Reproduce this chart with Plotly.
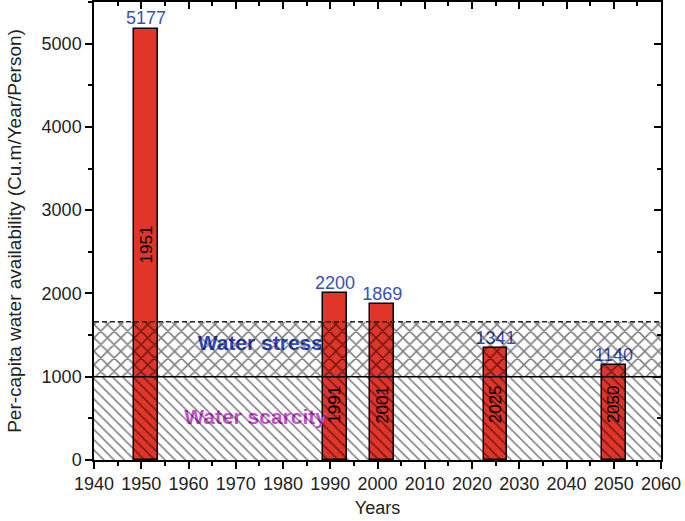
import plotly.graph_objects as go

years = [1951, 1991, 2001, 2025, 2050]
availability = [5177, 2000, 1869, 1341, 1140]
value_labels = ["5177", "2200", "1869", "1341", "1140"]
year_labels = ["1951", "1991", "2001", "2025", "2050"]
scarcity_limit = 1000
stress_limit = 1660
x_range = [1940, 2060]
y_range = [0, 5500]
x_ticks = list(range(1940, 2061, 10))
y_ticks = list(range(0, 5001, 1000))

FONT = "Liberation Sans, Arial, sans-serif"

fig = go.Figure()

fig.add_trace(go.Bar(
    x=years, y=availability, width=5,
    marker=dict(color="#E2352A", line=dict(color="black", width=1.5)),
    hoverinfo="skip", showlegend=False,
))

# value labels above bars (drawn beneath the hatching)
fig.add_trace(go.Scatter(
    x=years, y=availability, mode="text", text=value_labels,
    textposition="top center",
    textfont=dict(family=FONT, size=18, color="#3A50B4"),
    hoverinfo="skip", showlegend=False,
))
# zone labels (beneath the hatching)
fig.add_trace(go.Scatter(
    x=[1975.2, 1974.2], y=[1380, 500], mode="text",
    text=["<b>Water stress</b>", "<b>Water scarcity</b>"],
    textposition="middle center",
    textfont=dict(family=FONT, size=21, color=["#3049C4", "#C850D0"]),
    hoverinfo="skip", showlegend=False,
))

# water scarcity zone (below 1000)
fig.add_trace(go.Scatter(
    x=[x_range[0], x_range[1], x_range[1], x_range[0], x_range[0]],
    y=[0, 0, scarcity_limit, scarcity_limit, 0],
    mode="lines", line=dict(width=0), fill="toself",
    fillcolor="rgba(0,0,0,0)",
    fillpattern=dict(shape="\\", size=7.2, solidity=0.21, fgcolor="black",
                     bgcolor="rgba(0,0,0,0)", fillmode="overlay"),
    hoverinfo="skip", showlegend=False,
))
# water stress zone
fig.add_trace(go.Scatter(
    x=[x_range[0], x_range[1], x_range[1], x_range[0], x_range[0]],
    y=[scarcity_limit, scarcity_limit, stress_limit, stress_limit, scarcity_limit],
    mode="lines", line=dict(width=0), fill="toself",
    fillcolor="rgba(0,0,0,0)",
    fillpattern=dict(shape="x", size=9.5, solidity=0.3, fgcolor="black",
                     bgcolor="rgba(0,0,0,0)", fillmode="overlay"),
    hoverinfo="skip", showlegend=False,
))
# boundary lines
fig.add_trace(go.Scatter(
    x=x_range, y=[scarcity_limit, scarcity_limit], mode="lines",
    line=dict(color="black", width=1.3), hoverinfo="skip", showlegend=False,
))
fig.add_trace(go.Scatter(
    x=x_range, y=[stress_limit, stress_limit], mode="lines",
    line=dict(color="#222222", width=1.5, dash="5px,3px"),
    hoverinfo="skip", showlegend=False,
))
# dummy trace for mirror axes
fig.add_trace(go.Scatter(x=x_range, y=y_range, xaxis="x2", yaxis="y2",
                         mode="markers", marker=dict(opacity=0),
                         hoverinfo="skip", showlegend=False))

# year labels inside bars
for yr, v, lab in zip(years, availability, year_labels):
    ypos = v / 2 if v > 3000 else 665
    fig.add_annotation(x=yr, y=ypos, text=lab, showarrow=False, textangle=-90,
                       font=dict(family=FONT, size=17, color="black"))

axis_common = dict(showgrid=False, zeroline=False, showline=True,
                   linecolor="black", linewidth=1.5, automargin=False)

fig.update_layout(
    width=685, height=521,
    margin=dict(l=94, r=24, t=2, b=61),
    paper_bgcolor="white", plot_bgcolor="white",
    font=dict(family=FONT, color="#222222"),
    bargap=0,
    xaxis=dict(range=x_range, tickvals=x_ticks, ticks="outside", ticklen=7,
               tickwidth=1.5, tickcolor="black",
               minor=dict(dtick=5, tick0=1940, ticks="outside", ticklen=4,
                          tickwidth=1.5, tickcolor="black"),
               tickfont=dict(size=18, color="#222222"),
               title=dict(text="Years", font=dict(size=18, color="#222222"), standoff=8),
               **axis_common),
    yaxis=dict(range=y_range, tickvals=y_ticks, ticks="outside", ticklen=7,
               tickwidth=1.5, tickcolor="black",
               minor=dict(dtick=500, tick0=0, ticks="outside", ticklen=4,
                          tickwidth=1.5, tickcolor="black"),
               tickfont=dict(size=18, color="#222222"),
               title=dict(text="Per-capita water availability (Cu.m/Year/Person)",
                          font=dict(size=19, color="#222222"), standoff=15),
               **axis_common),
    xaxis2=dict(range=x_range, overlaying="x", side="top", anchor="y2",
                tickvals=x_ticks, ticks="inside", ticklen=7, tickwidth=1.5,
                tickcolor="black", showticklabels=False,
                minor=dict(dtick=5, tick0=1940, ticks="inside", ticklen=4,
                           tickwidth=1.5, tickcolor="black"),
                **axis_common),
    yaxis2=dict(range=y_range, overlaying="y", side="right", anchor="x2",
                tickvals=y_ticks, ticks="inside", ticklen=7, tickwidth=1.5,
                tickcolor="black", showticklabels=False,
                minor=dict(dtick=500, tick0=0, ticks="inside", ticklen=4,
                           tickwidth=1.5, tickcolor="black"),
                **axis_common),
)

fig.write_html("out.html", config={"displayModeBar": False},
               post_script="document.body.style.margin='0';document.body.style.overflow='hidden';")
